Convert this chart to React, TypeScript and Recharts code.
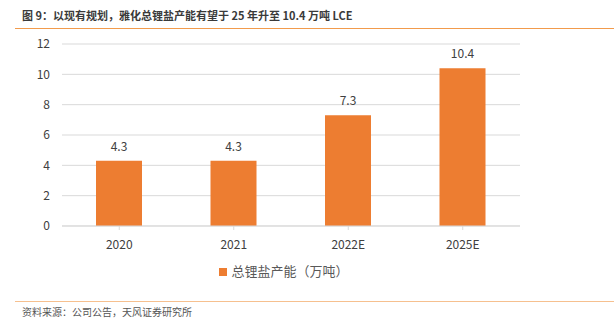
import React from 'react';
import { BarChart, Bar, XAxis, YAxis, CartesianGrid, Legend, LabelList } from 'recharts';

const years = ['2020', '2021', '2022E', '2025E'];
const capacity = [4.3, 4.3, 7.3, 10.4];
const yTicks = [0, 2, 4, 6, 8, 10, 12];

const data = years.map((year, i) => ({ year, capacity: capacity[i] }));

const font = '"Noto Sans CJK SC", "Open Sans", sans-serif';

export default function App() {
  return (
    <div style={{ position: 'fixed', left: 0, top: 0, width: 614, height: 323, background: '#fff', fontFamily: font }}>
      <div style={{ position: 'absolute', left: 22, top: 7, fontSize: 11, fontWeight: 'bold', color: '#3a3a3a', whiteSpace: 'nowrap' }}>
        图 9：以现有规划，雅化总锂盐产能有望于 25 年升至 10.4 万吨 LCE
      </div>
      <div style={{ position: 'absolute', left: 15, top: 28, width: 599, height: 1, background: '#f29b4c' }} />

      <BarChart
        width={614}
        height={323}
        data={data}
        margin={{ top: 44, right: 94, left: 0, bottom: 43 }}
      >
        <CartesianGrid vertical={false} stroke="#d9d9d9" />
        <XAxis
          dataKey="year"
          height={35}
          stroke="#d9d9d9"
          tickSize={4}
          tickMargin={10}
          tick={{ fontSize: 12, fill: '#404040', fontFamily: font }}
          interval={0}
        />
        <YAxis
          width={62}
          domain={[0, 12]}
          ticks={yTicks}
          axisLine={false}
          tickLine={false}
          tickSize={0}
          tickMargin={12}
          tick={{ fontSize: 12, fill: '#404040', fontFamily: font }}
        />
        <Legend
          verticalAlign="bottom"
          iconType="square"
          iconSize={8}
          wrapperStyle={{ left: 0, width: 578, fontSize: 13, color: '#595959', fontFamily: font }}
          formatter={(v) => <span style={{ color: '#595959' }}>{v}</span>}
        />
        <Bar dataKey="capacity" name="总锂盐产能（万吨）" fill="#ed7d31" barSize={46} isAnimationActive={false}>
          <LabelList dataKey="capacity" position="top" offset={10} style={{ fontSize: 12, fill: '#404040', fontFamily: font }} />
        </Bar>
      </BarChart>

      <div style={{ position: 'absolute', left: 15, top: 301, width: 599, height: 1, background: '#f6c08f' }} />
      <div style={{ position: 'absolute', left: 22, top: 304, fontSize: 10, color: '#555', whiteSpace: 'nowrap' }}>
        资料来源：公司公告，天风证券研究所
      </div>
    </div>
  );
}
